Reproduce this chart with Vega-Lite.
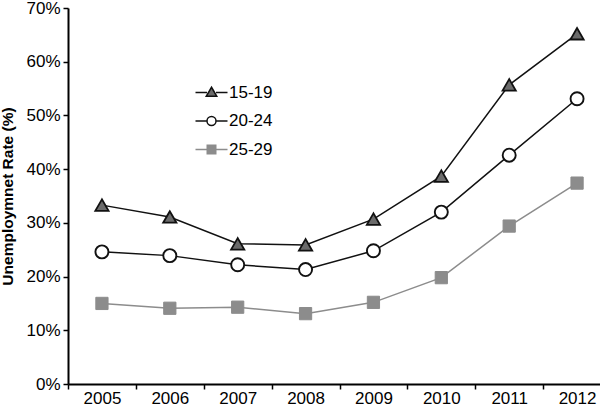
{
  "$schema": "https://vega.github.io/schema/vega-lite/v6.json",
  "width": 532,
  "height": 376,
  "autosize": {"type": "none"},
  "padding": {"left": 68, "top": 8, "right": 0, "bottom": 26},
  "background": "white",
  "config": {
    "view": {"stroke": null},
    "font": "Liberation Sans",
    "axis": {
      "domainColor": "#000000",
      "domainWidth": 2,
      "tickColor": "#000000",
      "tickWidth": 1.5,
      "tickSize": 5,
      "labelFontSize": 17,
      "labelColor": "#000000",
      "labelFont": "Liberation Sans",
      "grid": false,
      "titleColor": "#000000",
      "titleFont": "Liberation Sans"
    },
    "legend": {
      "orient": "none",
      "legendX": 135,
      "legendY": 76,
      "title": null,
      "labelFontSize": 17,
      "labelColor": "#000000",
      "labelFont": "Liberation Sans",
      "symbolSize": 100,
      "symbolStrokeWidth": 1.5,
      "symbolOpacity": 1,
      "labelOffset": 9,
      "rowPadding": 10.5,
      "padding": 0
    }
  },
  "data": {
    "values": [
      {"year": "2005", "group": "15-19", "rate": 0.333},
      {"year": "2006", "group": "15-19", "rate": 0.311},
      {"year": "2007", "group": "15-19", "rate": 0.261},
      {"year": "2008", "group": "15-19", "rate": 0.259},
      {"year": "2009", "group": "15-19", "rate": 0.307},
      {"year": "2010", "group": "15-19", "rate": 0.387},
      {"year": "2011", "group": "15-19", "rate": 0.557},
      {"year": "2012", "group": "15-19", "rate": 0.652},
      {"year": "2005", "group": "20-24", "rate": 0.246},
      {"year": "2006", "group": "20-24", "rate": 0.239},
      {"year": "2007", "group": "20-24", "rate": 0.222},
      {"year": "2008", "group": "20-24", "rate": 0.213},
      {"year": "2009", "group": "20-24", "rate": 0.248},
      {"year": "2010", "group": "20-24", "rate": 0.320},
      {"year": "2011", "group": "20-24", "rate": 0.426},
      {"year": "2012", "group": "20-24", "rate": 0.531},
      {"year": "2005", "group": "25-29", "rate": 0.150},
      {"year": "2006", "group": "25-29", "rate": 0.141},
      {"year": "2007", "group": "25-29", "rate": 0.143},
      {"year": "2008", "group": "25-29", "rate": 0.131},
      {"year": "2009", "group": "25-29", "rate": 0.152},
      {"year": "2010", "group": "25-29", "rate": 0.198},
      {"year": "2011", "group": "25-29", "rate": 0.294},
      {"year": "2012", "group": "25-29", "rate": 0.374}
    ]
  },
  "encoding": {
    "x": {
      "field": "year",
      "type": "ordinal",
      "bandPosition": 0.5,
      "scale": {"type": "band", "paddingInner": 0, "paddingOuter": 0, "range": [0, 543]},
      "axis": {"title": null, "labelAngle": 0, "tickBand": "extent", "labelPadding": 1}
    },
    "y": {
      "field": "rate",
      "type": "quantitative",
      "scale": {"domain": [0, 0.7], "nice": false},
      "axis": {
        "title": "Unemploymnet Rate (%)",
        "titleFontSize": 15.5,
        "titleFontWeight": "bold",
        "titlePadding": 10,
        "format": ".0%",
        "values": [0, 0.1, 0.2, 0.3, 0.4, 0.5, 0.6, 0.7],
        "labelPadding": 3
      }
    }
  },
  "layer": [
    {
      "mark": {"type": "line", "strokeWidth": 1.5},
      "encoding": {
        "stroke": {
          "field": "group",
          "type": "nominal",
          "scale": {"domain": ["15-19", "20-24", "25-29"], "range": ["#111111", "#111111", "#8c8c8c"]}
        }
      }
    },
    {
      "mark": {"type": "point", "opacity": 0, "strokeWidth": 1.5},
      "encoding": {
        "shape": {
          "field": "group",
          "type": "nominal",
          "scale": {
            "domain": ["15-19", "20-24", "25-29"],
            "range": [
              "M-3.2,0H-0.9M0.9,0H3.2M0,-1.05L1.05,0.75H-1.05Z",
              "M-3.2,0H-0.9M0.9,0H3.2M0.9,0C0.9,0.497 0.497,0.9 0,0.9C-0.497,0.9 -0.9,0.497 -0.9,0C-0.9,-0.497 -0.497,-0.9 0,-0.9C0.497,-0.9 0.9,-0.497 0.9,0Z",
              "M-3.2,0H-0.8M0.8,0H3.2M-0.85,-0.85H0.85V0.85H-0.85Z"
            ]
          }
        },
        "fill": {
          "field": "group",
          "type": "nominal",
          "scale": {"domain": ["15-19", "20-24", "25-29"], "range": ["#6b6b6b", "#ffffff", "#8c8c8c"]}
        },
        "stroke": {"field": "group", "type": "nominal"}
      }
    },
    {
      "transform": [{"filter": "datum.group === '15-19'"}],
      "mark": {"type": "point", "shape": "triangle-up", "size": 175, "fill": "#6b6b6b", "stroke": "#111111", "strokeWidth": 1.8, "opacity": 1}
    },
    {
      "transform": [{"filter": "datum.group === '20-24'"}],
      "mark": {"type": "point", "shape": "circle", "size": 170, "fill": "#ffffff", "stroke": "#111111", "strokeWidth": 1.9, "opacity": 1}
    },
    {
      "transform": [{"filter": "datum.group === '25-29'"}],
      "mark": {"type": "point", "shape": "square", "size": 150, "fill": "#8c8c8c", "stroke": "#8c8c8c", "strokeWidth": 1, "opacity": 1}
    }
  ]
}
